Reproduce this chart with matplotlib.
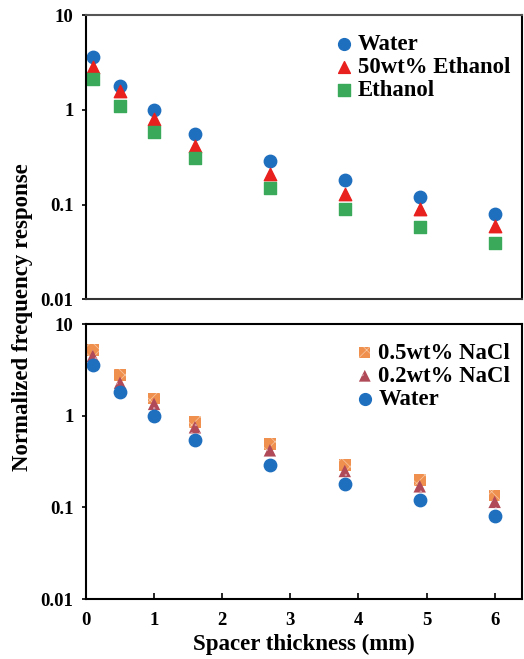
import matplotlib.pyplot as plt

plt.rcParams['font.family'] = ['Liberation Serif', 'DejaVu Serif']
plt.rcParams['font.weight'] = 'bold'

x = [0.1, 0.5, 1.0, 1.6, 2.7, 3.8, 4.9, 6.0]
water = [3.6, 1.8, 1.0, 0.55, 0.29, 0.18, 0.12, 0.08]
ethanol50 = [2.8, 1.6, 0.8, 0.42, 0.21, 0.13, 0.09, 0.06]
ethanol = [2.1, 1.1, 0.58, 0.31, 0.15, 0.09, 0.058, 0.039]
nacl05 = [5.2, 2.8, 1.55, 0.85, 0.49, 0.29, 0.2, 0.135]
nacl02 = [4.5, 2.3, 1.35, 0.75, 0.42, 0.25, 0.17, 0.115]

fig = plt.figure(figsize=(5.24, 6.59), dpi=100)
ax1 = fig.add_axes([0.164, 0.546, 0.832, 0.431])
ax2 = fig.add_axes([0.164, 0.091, 0.832, 0.417])

s = 80
ax1.scatter(x, water, marker='o', color='#1f6fbf', s=s, label='Water')
ax1.scatter(x, ethanol50, marker='^', color='#e8201e', s=s, label='50wt% Ethanol')
ax1.scatter(x, ethanol, marker='s', color='#3aaa5a', s=s - 10, label='Ethanol')

plt.rcParams['hatch.linewidth'] = 0.5
ax2.scatter(x, nacl05, marker='s', facecolor='#f0904f', edgecolor='#f6c8a4', linewidths=0,
            hatch='xx', s=s - 10, label='0.5wt% NaCl')
ax2.scatter(x, nacl02, marker='^', facecolor='#b04a58', edgecolor='#d49aa4', linewidths=0,
            hatch='..', s=s, label='0.2wt% NaCl')
ax2.scatter(x, water, marker='o', color='#1f6fbf', s=s, label='Water')

for ax in (ax1, ax2):
    ax.set_yscale('log')
    ax.set_ylim(0.01, 10)
    ax.set_xlim(0, 6.4)
    ax.set_yticks([0.01, 0.1, 1, 10])
    ax.set_yticklabels(['0.01', '0.1', '1', '10'])
    ax.minorticks_off()
    ax.tick_params(axis='y', direction='out', length=3, labelsize=13.5, width=1.2, pad=6)
    for sp in ax.spines.values():
        sp.set_linewidth(1.5)
    ax.legend(loc='upper right', frameon=False, fontsize=16.4, handletextpad=0.0,
              handlelength=1.2, labelspacing=0.08, borderaxespad=0.3,
              bbox_to_anchor=(1.01, 0.99), markerscale=0.95)

ax1.tick_params(axis='x', bottom=False, labelbottom=False)
ax1.spines['top'].set_color('#555555')
ax1.spines['bottom'].set_color('#333333')
ax2.set_xticks([0, 1, 2, 3, 4, 5, 6])
ax2.tick_params(axis='x', direction='in', length=4, labelsize=13.5, width=1.2, pad=9)
ax2.set_xlabel('Spacer thickness (mm)', fontsize=16.5, fontweight='bold', labelpad=4)
fig.text(0.042, 0.519, 'Normalized frequency response', rotation=90, va='center', ha='center',
         fontsize=16.5, fontweight='bold')

fig.savefig('out.png', dpi=100)
